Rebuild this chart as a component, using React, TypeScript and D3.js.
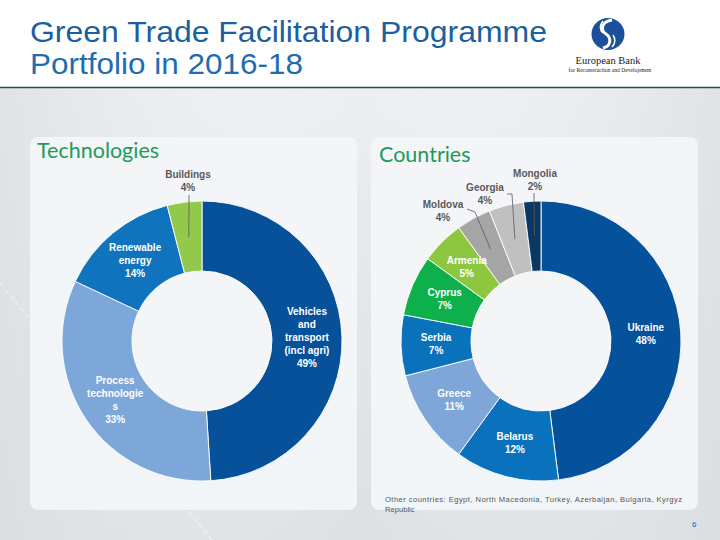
import React from 'react';
import * as d3 from 'd3';

// ---------- DATA ----------
const techCategories = ['Vehicles\nand\ntransport\n(incl agri)', 'Process\ntechnologie\ns', 'Renewable\nenergy', 'Buildings'];
const techValues = [49, 33, 14, 4];

const countryCategories = ['Ukraine', 'Belarus', 'Greece', 'Serbia', 'Cyprus', 'Armenia', 'Moldova', 'Georgia', 'Mongolia'];
const countryValues = [48, 12, 11, 7, 7, 5, 4, 4, 2];

const otherCountriesLine1 = 'Other countries: Egypt, North Macedonia, Turkey, Azerbaijan, Bulgaria, Kyrgyz';
const otherCountriesLine2 = 'Republic';

// ---------- STYLES / LAYOUT ----------
const techColors = ['#07519b', '#7da6d9', '#0f74bd', '#92c84b'];
const countryColors = ['#06519b', '#0a72bd', '#7ea6d8', '#0a71bb', '#0db04b', '#8dc73f', '#a5a5a5', '#c0c0c0', '#0b3863'];

type Outside = { x: number; y: number; path: [number, number][] };
const techOutside: Record<string, Outside> = {
  Buildings: { x: -14, y: -150, path: [[-13, -146]] },
};
const countryOutside: Record<string, Outside> = {
  Mongolia: { x: -6, y: -151, path: [[-7, -148]] },
  Georgia: { x: -56, y: -137, path: [[-34, -147], [-29, -147]] },
  Moldova: { x: -98, y: -120, path: [[-74, -132], [-66, -129]] },
};

const labelFont = "'Liberation Sans', Arial, sans-serif";

function Donut({ cx, cy, values, cats, colors, outside }: {
  cx: number; cy: number; values: number[]; cats: string[]; colors: string[]; outside: Record<string, Outside>;
}) {
  const pie = d3.pie<number>().sort(null).value((d) => d);
  const arcs = pie(values);
  const arc = d3.arc<d3.PieArcDatum<number>>().innerRadius(70).outerRadius(140);
  const lh = 13;
  return (
    <g transform={`translate(${cx},${cy})`}>
      {arcs.map((a, i) => (
        <path key={'p' + i} d={arc(a) || ''} fill={colors[i]} stroke="#ffffff" strokeWidth={0.9} />
      ))}
      {arcs.map((a, i) => {
        const lines = cats[i].split('\n').concat(`${values[i]}%`);
        const [mx, my] = arc.centroid(a);
        const o = outside[cats[i]];
        if (o) {
          const pts = ([...o.path, [mx, my]] as [number, number][]);
          const lhO = 13.5;
          return (
            <g key={'l' + i}>
              <path d={d3.line()(pts) || ''} fill="none" stroke="#595959" strokeWidth={0.8} />
              <text fontFamily={labelFont} fontWeight="bold" fontSize={10} fill="#595959" textAnchor="middle">
                {lines.map((t, j) => (
                  <tspan key={j} x={o.x} y={o.y - (lines.length - 1 - j) * lhO}>{t}</tspan>
                ))}
              </text>
            </g>
          );
        }
        const y0 = my - ((lines.length - 1) * lh) / 2;
        return (
          <text key={'l' + i} fontFamily={labelFont} fontWeight="bold" fontSize={10} fill="#ffffff" textAnchor="middle">
            {lines.map((t, j) => (
              <tspan key={j} x={mx} y={y0 + j * lh} dy="0.35em">{t}</tspan>
            ))}
          </text>
        );
      })}
    </g>
  );
}

export default function App() {
  return (
    <svg width={720} height={540} style={{ position: 'absolute', left: 0, top: 0 }} xmlns="http://www.w3.org/2000/svg">
      <defs>
        <linearGradient id="bg" x1="0" y1="0" x2="0" y2="1">
          <stop offset="0" stopColor="#eceef0" />
          <stop offset="1" stopColor="#dce0e3" />
        </linearGradient>
        <linearGradient id="bgh" x1="0" y1="0" x2="1" y2="0">
          <stop offset="0" stopColor="#d8dde1" stopOpacity="0.6" />
          <stop offset="0.5" stopColor="#ffffff" stopOpacity="0" />
          <stop offset="1" stopColor="#d8dde1" stopOpacity="0.6" />
        </linearGradient>
      </defs>
      <rect x={0} y={0} width={720} height={540} fill="#ffffff" />
      <rect x={0} y={88} width={720} height={452} fill="url(#bg)" />
      <rect x={0} y={88} width={720} height={452} fill="url(#bgh)" />
      <line x1={0} y1={283} x2={212} y2={540} stroke="#ffffff" strokeWidth={1} strokeDasharray="5 3" opacity={0.8} />
      <line x1={0} y1={87.5} x2={720} y2={87.5} stroke="#1d4e5e" strokeWidth={1.6} />

      {/* Title */}
      <text x={30} y={42} fontFamily="'Liberation Sans', Arial, sans-serif" fontSize={30} fill="#1c5f9f" textLength={517} lengthAdjust="spacingAndGlyphs">Green Trade Facilitation Programme</text>
      <text x={30} y={74} fontFamily="'Liberation Sans', Arial, sans-serif" fontSize={30} fill="#1d6db0" textLength={273} lengthAdjust="spacingAndGlyphs">Portfolio in 2016-18</text>

      {/* Logo */}
      <g>
        <ellipse cx={608} cy={34} rx={16.5} ry={16} fill="#1b4f9a" />
        <path d="M612,20 C600,22 601,31 606,34 C611,37 612,46 603,48" fill="none" stroke="#ffffff" strokeWidth={3} />
        <path d="M603,21 C599,26 600,30 603,33 M613,35 C616,39 615,44 612,47" fill="none" stroke="#ffffff" strokeWidth={1.6} />
        <text x={608} y={64} textAnchor="middle" fontFamily="'Liberation Serif', 'DejaVu Serif', serif" fontSize={10.5} fill="#222">European Bank</text>
        <text x={610} y={72} textAnchor="middle" fontFamily="'Liberation Serif', 'DejaVu Serif', serif" fontSize={5.6} fill="#222">for Reconstruction and Development</text>
      </g>

      {/* Panels */}
      <rect x={30} y={137} width={327} height={373} rx={8} fill="#f4f6f8" opacity={0.9} />
      <rect x={371} y={137} width={327} height={373} rx={8} fill="#f4f6f8" opacity={0.9} />

      <text x={37} y={158} fontFamily="Lato, 'Open Sans', sans-serif" fontSize={21.5} fill="#1e9b57">Technologies</text>
      <text x={379} y={162} fontFamily="Lato, 'Open Sans', sans-serif" fontSize={21.5} fill="#1e9b57">Countries</text>

      <Donut cx={202} cy={341} values={techValues} cats={techCategories} colors={techColors} outside={techOutside} />
      <Donut cx={541} cy={341} values={countryValues} cats={countryCategories} colors={countryColors} outside={countryOutside} />

      <text x={385} y={502} fontFamily="'Liberation Sans', Arial, sans-serif" fontSize={7.6} fill="#555" textLength={297} lengthAdjust="spacing">{otherCountriesLine1}</text>
      <text x={385} y={512} fontFamily="'Liberation Sans', Arial, sans-serif" fontSize={7.6} fill="#555">{otherCountriesLine2}</text>

      <text x={692} y={527} fontFamily="'Liberation Sans', Arial, sans-serif" fontSize={8} fill="#1c5f9f">6</text>
    </svg>
  );
}
